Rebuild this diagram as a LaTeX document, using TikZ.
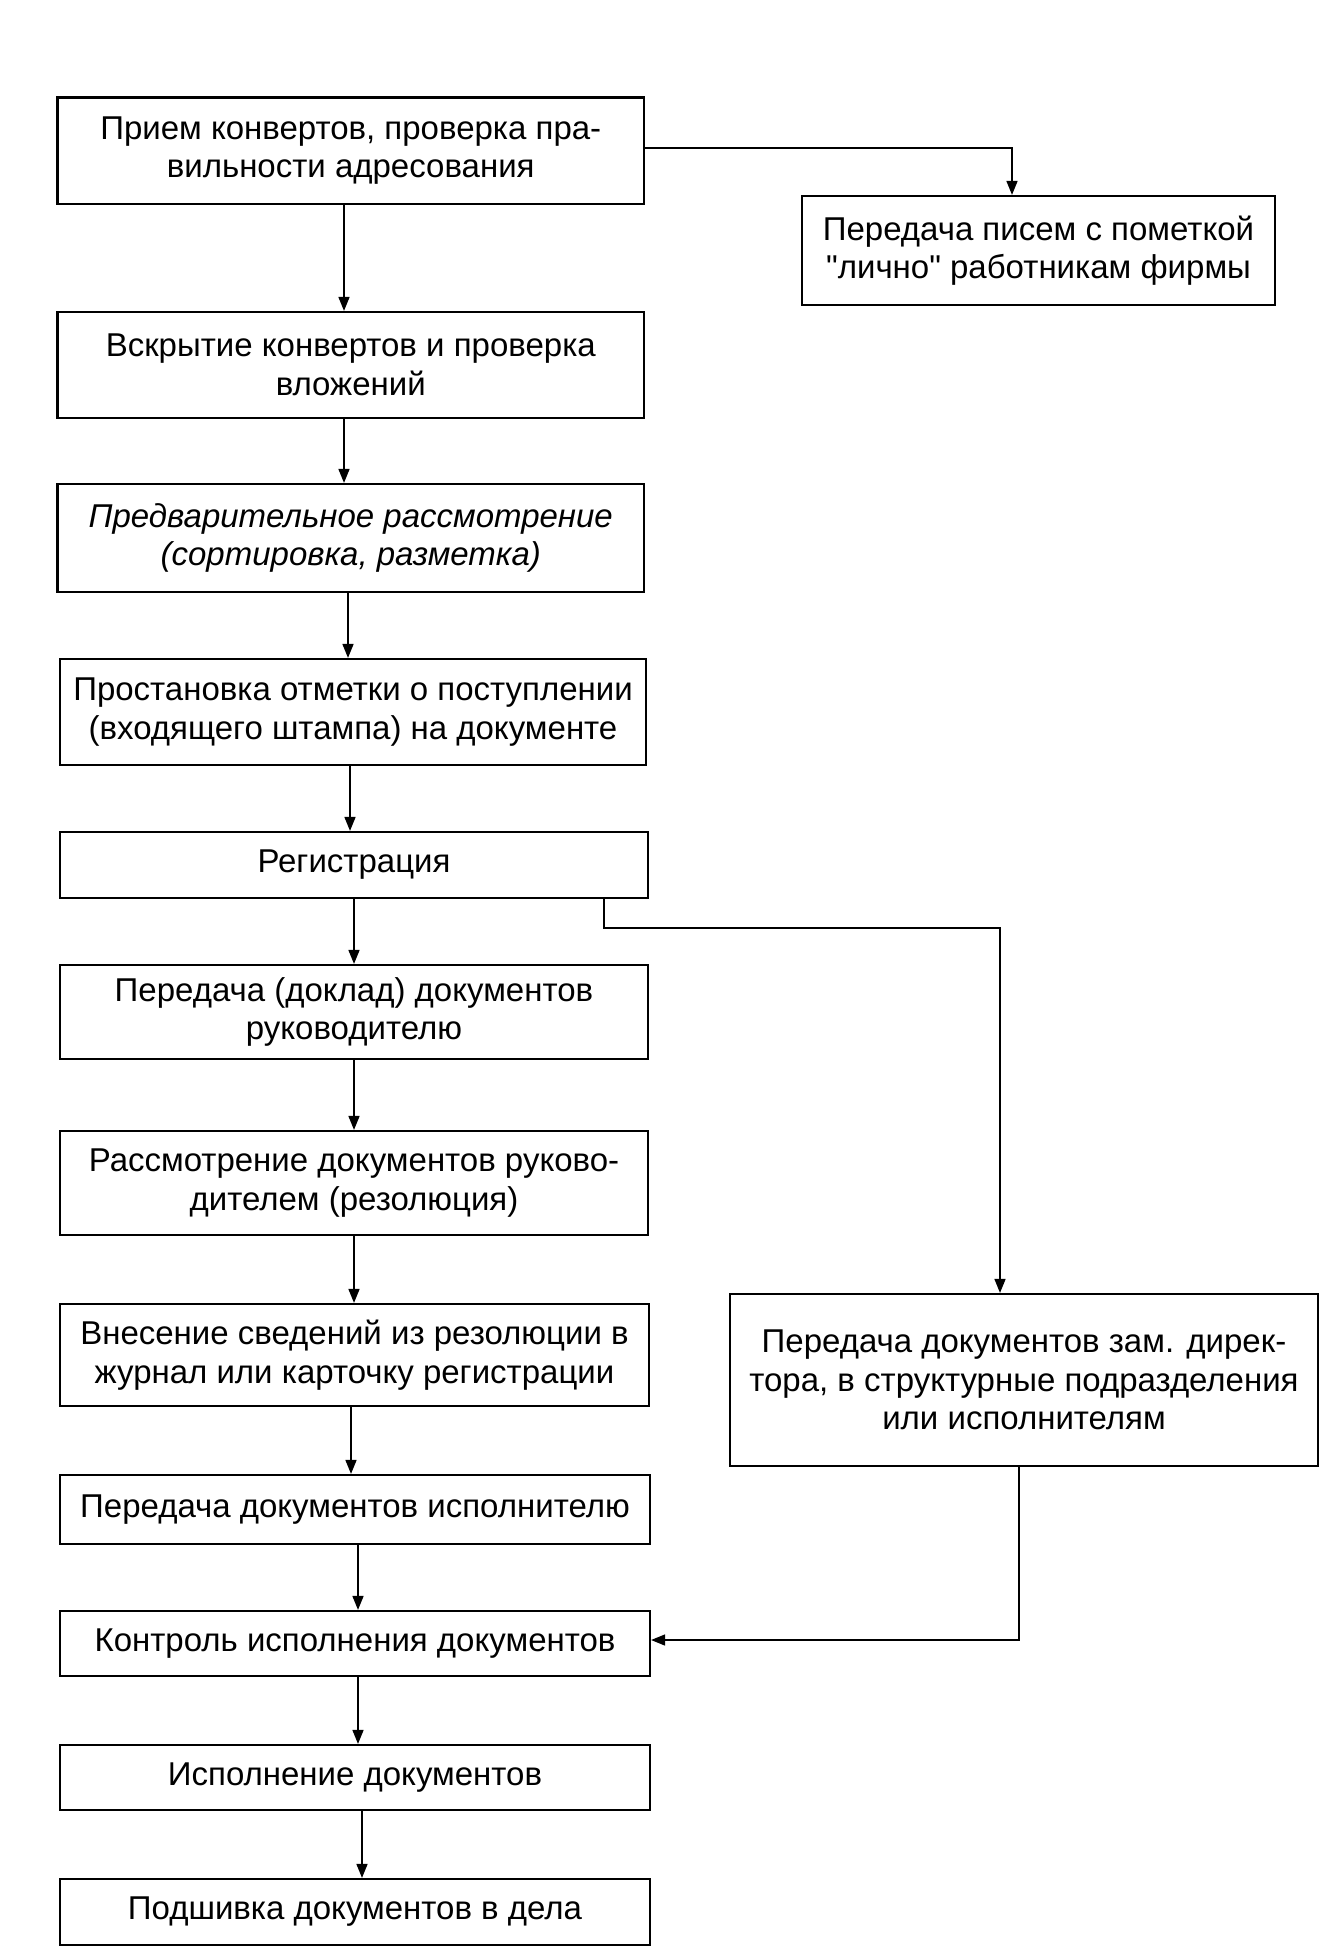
\documentclass[tikz,border=0pt]{standalone}
\usepackage{fontspec}
\setmainfont{Liberation Sans}
\newfontfamily\qf{Liberation Sans}
\usetikzlibrary{arrows.meta,calc}
\begin{document}
\begin{tikzpicture}[x=1pt,y=-1pt,
  box/.style={draw,line width=2.2pt,align=center,inner sep=0pt,
    font=\fontsize{33}{38.5}\selectfont},
  arr/.style={line width=1.6pt,-{Triangle[length=14pt,width=11pt]}}]
\useasboundingbox (0,0) rectangle (1338,1958);
\node[box,minimum width=586.5pt,minimum height=106.5pt] (b1) at (350.75,150.75) {Прием конвертов, проверка пра-\\вильности адресования};
\node[box,minimum width=473pt,minimum height=109pt] (b2) at (1038.5,250.5) {Передача писем с пометкой\\{\qf"}лично{\qf"} работникам фирмы};
\node[box,minimum width=586.5pt,minimum height=106pt] (b3) at (350.75,365) {Вскрытие конвертов и проверка\\вложений};
\node[box,minimum width=586.5pt,minimum height=108pt] (b4) at (350.75,538) {\itshape Предварительное рассмотрение\\\itshape (сортировка, разметка)};
\node[box,minimum width=586pt,minimum height=106pt] (b5) at (353,712) {Простановка отметки о поступлении\\(входящего штампа) на документе};
\node[box,minimum width=588pt,minimum height=66pt] (b6) at (354,865) {Регистрация};
\node[box,minimum width=588pt,minimum height=94pt] (b7) at (354,1012) {Передача (доклад) документов\\руководителю};
\node[box,minimum width=588pt,minimum height=104pt] (b8) at (354,1183) {Рассмотрение документов руково-\\дителем (резолюция)};
\node[box,minimum width=589pt,minimum height=102pt] (b9) at (354.5,1355) {Внесение сведений из резолюции в\\журнал или карточку регистрации};
\node[box,minimum width=590pt,minimum height=69pt] (b10) at (355,1509.5) {Передача документов исполнителю};
\node[box,minimum width=590pt,minimum height=65pt] (b11) at (355,1643.5) {Контроль исполнения документов};
\node[box,minimum width=590pt,minimum height=65pt] (b12) at (355,1777.5) {Исполнение документов};
\node[box,minimum width=590pt,minimum height=66pt] (b13) at (355,1912) {Подшивка документов в дела};
\node[box,minimum width=588pt,minimum height=172pt] (b14) at (1024,1380) {Передача документов зам. дирек-\\тора, в структурные подразделения\\или исполнителям};
\coordinate (k1) at (1012,148);
\draw[arr] (b1.east |- k1) -- (k1) -- (k1 |- b2.north);
\foreach \a/\b/\x in {b1/b3/344,b3/b4/344,b4/b5/348,b5/b6/350,b6/b7/354,b7/b8/354,b8/b9/354,b9/b10/351,b10/b11/358,b11/b12/358,b12/b13/362}
  \draw[arr] (\a.south -| \x,0) -- (\b.north -| \x,0);
\coordinate (k2) at (1000,928);
\draw[arr] ([xshift=250pt]b6.south) |- (k2) -- (k2 |- b14.north);
\coordinate (k3) at (1019,1640);
\draw[arr] (k3 |- b14.south) -- (k3) -- (k3 -| b11.east);
\end{tikzpicture}
\end{document}
